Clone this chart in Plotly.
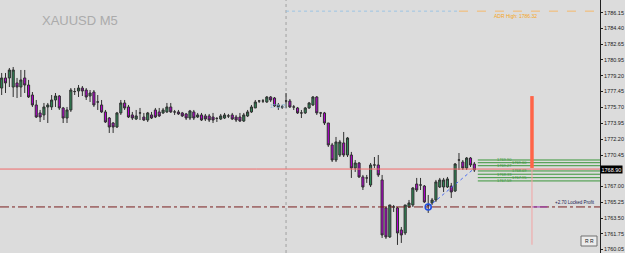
import plotly.graph_objects as go

opens = [1777.84,1778.95,1778.95,1777.95,1778.40,1777.95,1778.95,1778.17,1777.07,1775.97,
         1775.09,1774.87,1775.75,1775.75,1776.52,1776.96,1775.64,1774.53,1775.42,1777.45,
         1777.51,1777.84,1777.62,1776.96,1777.40,1776.30,1775.97,1775.20,1774.53,1773.98,
         1773.54,1775.09,1776.19,1775.75,1774.87,1774.42,1775.09,1774.64,1774.31,1774.87,
         1775.42,1775.20,1775.09,1775.20,1775.75,1775.20,1775.20,1775.09,1774.98,1774.53,
         1775.20,1774.64,1774.87,1774.76,1774.76,1774.64,1774.48,1774.42,1774.53,1774.76,
         1774.87,1774.64,1774.64,1774.20,1774.76,1775.20,1775.64,1776.41,1776.41,1776.30,
         1776.85,1776.74,1775.75,1775.75,1776.41,1776.41,1775.75,1775.64,1775.09,1775.09,
         1775.64,1775.97,1776.85,1775.09,1775.09,1773.98,1771.56,1769.90,1770.45,1771.78,
         1770.45,1770.45,1769.02,1769.57,1768.03,1767.92,1767.14,1769.35,1769.35,1767.70,
         1764.61,1761.41,1764.72,1764.61,1762.18,1761.85,1764.72,1764.94,1767.25,1767.14,
         1767.03,1764.94,1765.16,1765.49,1766.92,1766.92,1766.92,1767.03,1766.48,1769.90,
         1769.68,1769.02,1770.12,1769.46]
highs = [1779.50,1779.50,1780.05,1780.16,1778.95,1779.83,1779.83,1778.73,1777.40,1776.52,
         1775.42,1776.19,1776.19,1777.07,1777.29,1777.07,1775.75,1775.75,1777.84,1777.84,
         1778.17,1778.06,1777.84,1777.62,1777.62,1777.07,1776.52,1775.42,1774.64,1774.09,
         1775.20,1776.52,1776.52,1775.97,1775.20,1775.42,1775.64,1775.09,1775.20,1775.20,
         1775.64,1775.64,1775.64,1776.19,1776.19,1775.42,1775.42,1775.20,1775.09,1775.42,
         1775.42,1775.09,1775.09,1774.98,1774.98,1775.09,1774.64,1774.98,1775.09,1774.98,
         1775.09,1774.87,1775.09,1775.09,1775.42,1775.97,1776.52,1776.52,1776.63,1776.96,
         1776.96,1776.85,1776.19,1775.97,1777.29,1776.63,1775.97,1775.75,1775.42,1775.75,
         1776.30,1776.96,1776.96,1775.20,1775.20,1773.98,1771.78,1772.44,1772.11,1772.99,
         1772.44,1770.79,1769.90,1769.68,1768.25,1768.25,1769.57,1770.23,1770.45,1768.25,
         1764.72,1764.94,1764.94,1764.72,1762.51,1764.94,1765.49,1766.92,1767.92,1767.92,
         1767.14,1766.04,1765.71,1767.70,1767.92,1767.92,1768.03,1767.37,1769.57,1770.67,
         1769.90,1770.23,1770.23,1769.68]
lows = [1777.07,1777.29,1777.95,1776.85,1776.74,1776.85,1777.29,1776.74,1775.75,1774.53,
        1774.09,1774.31,1773.98,1775.42,1775.75,1775.42,1773.98,1773.98,1775.20,1777.07,
        1776.85,1776.96,1776.52,1776.30,1775.75,1775.42,1775.09,1773.98,1772.88,1772.88,
        1773.43,1774.87,1775.42,1774.53,1774.31,1774.31,1774.31,1774.20,1774.09,1774.42,
        1774.53,1774.64,1774.98,1775.09,1775.09,1774.87,1774.87,1774.64,1774.31,1774.31,
        1774.31,1774.53,1774.20,1774.20,1774.09,1773.98,1774.09,1774.31,1774.42,1774.53,
        1774.31,1774.09,1774.09,1774.09,1774.64,1775.09,1775.64,1776.19,1776.19,1776.19,
        1776.30,1775.75,1775.42,1775.53,1775.64,1775.64,1775.42,1774.98,1774.53,1774.98,
        1775.53,1775.86,1774.87,1774.64,1773.76,1771.34,1769.68,1769.68,1770.23,1770.23,
        1770.23,1767.92,1768.58,1767.92,1766.59,1767.37,1766.92,1769.02,1768.03,1761.30,
        1761.19,1761.30,1764.17,1760.53,1760.75,1761.63,1764.61,1764.72,1766.37,1766.59,
        1765.16,1764.06,1764.94,1765.27,1766.81,1766.37,1766.81,1765.71,1766.37,1768.80,
        1768.80,1768.80,1769.13,1768.58]
closes = [1778.95,1778.40,1779.83,1779.83,1777.95,1778.73,1778.17,1776.85,1775.97,1774.64,
          1774.64,1775.75,1775.97,1776.52,1776.96,1775.64,1774.53,1775.42,1777.62,1777.45,
          1777.84,1777.51,1776.85,1777.29,1775.97,1776.30,1775.20,1774.09,1773.54,1773.54,
          1775.09,1776.19,1775.64,1774.64,1774.53,1774.76,1775.09,1774.31,1775.09,1774.53,
          1774.64,1774.76,1775.42,1775.75,1775.20,1775.20,1774.98,1774.76,1774.53,1775.31,
          1774.53,1774.87,1774.31,1774.42,1774.31,1774.31,1774.48,1774.76,1774.87,1774.76,
          1774.42,1774.31,1774.20,1774.87,1775.20,1775.75,1776.30,1776.41,1776.41,1776.85,
          1776.52,1775.86,1775.97,1775.75,1776.41,1775.75,1775.75,1775.09,1775.09,1775.64,
          1776.19,1776.85,1775.09,1775.09,1773.98,1771.56,1769.90,1771.89,1771.89,1770.45,
          1772.33,1769.02,1769.57,1768.03,1766.92,1767.92,1769.35,1769.35,1768.25,1761.63,
          1761.41,1764.94,1764.72,1761.85,1761.63,1764.94,1765.16,1766.81,1766.59,1767.14,
          1765.27,1764.94,1765.49,1767.48,1767.70,1767.70,1767.81,1766.37,1769.46,1769.90,
          1769.02,1770.12,1769.35,1768.80]
bars = list(range(len(opens)))

tick_vals = [1786.15, 1784.40, 1782.65, 1780.95, 1779.20, 1777.45, 1775.70, 1773.95,
             1772.20, 1770.45, 1767.00, 1765.25, 1763.50, 1761.75, 1760.05]
tick_text = [f"{v:.2f}" for v in tick_vals]

current_price = 1768.90
locked_profit_price = 1764.72
adr_high = 1786.32
target_levels = [1769.90, 1769.60, 1769.27, 1768.69, 1768.33, 1767.95, 1767.59]
day_start_bar = 74
marker_bar = 111
trend_end_bar = 122.8
trend_end_price = 1768.90
range_bar = 138
range_top, range_mid, range_bottom = 1776.95, 1769.02, 1760.55
levels_start_bar = 123.9
x_range = [-0.4346, 155.7]
y_range = [1759.64, 1787.55]

BG = "#dcdcdc"
FONT = "Liberation Sans, Arial"
fig = go.Figure()
fig.add_trace(go.Candlestick(
    x=bars, open=opens, high=highs, low=lows, close=closes,
    increasing=dict(line=dict(color="#303030", width=1), fillcolor="#2e8b57"),
    decreasing=dict(line=dict(color="#303030", width=1), fillcolor="#b400d2"),
    showlegend=False, hoverinfo="skip"))

fig.add_trace(go.Scatter(x=[marker_bar, trend_end_bar], y=[locked_profit_price, trend_end_price],
                         mode="lines", line=dict(color="#4a6cf0", width=1, dash="dot"),
                         showlegend=False, hoverinfo="skip"))
fig.add_trace(go.Scatter(x=[marker_bar], y=[locked_profit_price], mode="markers",
                         marker=dict(symbol="circle-open", size=6, color="#2050e0",
                                     line=dict(width=1.6, color="#2050e0")),
                         showlegend=False, hoverinfo="skip"))

shapes = []
shapes.append(dict(type="line", xref="x", yref="paper", x0=day_start_bar, x1=day_start_bar,
                   y0=0, y1=1, line=dict(color="#a0a0a0", width=1, dash="dot"), layer="below"))
shapes.append(dict(type="line", xref="x", yref="y", x0=day_start_bar, x1=119,
                   y0=adr_high, y1=adr_high, line=dict(color="#9cc4e4", width=1, dash="dot")))
shapes.append(dict(type="line", xref="x", yref="y", x0=119, x1=x_range[1],
                   y0=adr_high, y1=adr_high, line=dict(color="#f5b86a", width=1, dash="dash")))
shapes.append(dict(type="line", xref="paper", yref="y", x0=0, x1=1,
                   y0=current_price, y1=current_price, line=dict(color="#f06a6a", width=1)))
shapes.append(dict(type="line", xref="paper", yref="y", x0=0, x1=1,
                   y0=locked_profit_price, y1=locked_profit_price,
                   line=dict(color="#7a1f1f", width=1, dash="dashdot")))
shapes.append(dict(type="line", xref="x", yref="y", x0=range_bar, x1=range_bar + 4,
                   y0=locked_profit_price, y1=locked_profit_price,
                   line=dict(color="#9a30b0", width=1)))
for lv in target_levels:
    shapes.append(dict(type="line", xref="x", yref="y", x0=levels_start_bar, x1=x_range[1],
                       y0=lv, y1=lv, line=dict(color="#3a963a", width=1)))
shapes.append(dict(type="line", xref="x", yref="y", x0=range_bar, x1=range_bar,
                   y0=range_bottom, y1=range_top, line=dict(color="#f4a4a4", width=1)))
shapes.append(dict(type="line", xref="x", yref="y", x0=range_bar, x1=range_bar,
                   y0=range_mid, y1=range_top, line=dict(color="#ff6448", width=3.5)))
shapes.append(dict(type="rect", xref="paper", yref="paper", x0=581/600, x1=597/600,
                   y0=7/253, y1=17/253, line=dict(color="#707070", width=1),
                   fillcolor="#ececec"))

annotations = [
    dict(text="XAUUSD M5", xref="paper", yref="paper", x=40/600, y=1-21/253,
         xanchor="left", yanchor="middle", showarrow=False,
         font=dict(family=FONT, size=13, color="#ababab")),
    dict(text="ADR High: 1786.32", xref="paper", yref="y", x=492/600, y=adr_high,
         xanchor="left", yanchor="top", showarrow=False,
         font=dict(family=FONT, size=5, color="#f5a623")),
    dict(text="+2.70 Locked Profit", xref="paper", yref="y", x=597/600, y=locked_profit_price,
         xanchor="right", yanchor="bottom", showarrow=False,
         font=dict(family=FONT, size=4.5, color="#1a1a50")),
    dict(text="R R", xref="paper", yref="paper", x=589/600, y=12/253,
         xanchor="center", yanchor="middle", showarrow=False,
         font=dict(family=FONT, size=5, color="#202020")),
    dict(text="1768.90", xref="paper", yref="y", x=1, y=current_price, xanchor="left",
         yanchor="middle", showarrow=False, bgcolor="#000000", borderpad=0.5,
         font=dict(family=FONT, size=5.5, color="#ffffff")),
    dict(text="1775.75", xref="x", yref="y", x=72, y=1775.75, xanchor="center",
         yanchor="middle", showarrow=False,
         font=dict(family=FONT, size=4.5, color="#86b4d4")),
]
for k, lv in enumerate(target_levels):
    annotations.append(dict(text=f"{lv:.2f}", xref="x", yref="y",
                            x=128.4 if k % 2 == 0 else 132.4, y=lv,
                            xanchor="left", yanchor="middle", showarrow=False,
                            font=dict(family=FONT, size=4, color="#3a963a")))

fig.update_layout(
    width=625, height=253, margin=dict(l=0, r=25, t=0, b=0),
    paper_bgcolor=BG, plot_bgcolor=BG, boxgap=0.22,
    shapes=shapes, annotations=annotations, showlegend=False,
    xaxis=dict(range=x_range, visible=False, rangeslider=dict(visible=False), fixedrange=True),
    yaxis=dict(range=y_range, side="right", showgrid=False, zeroline=False,
               showline=True, linecolor="#202020", linewidth=1,
               ticks="outside", ticklen=2, tickcolor="#202020",
               tickvals=tick_vals, ticktext=tick_text, automargin=False,
               tickfont=dict(family=FONT, size=5.5, color="#202020")),
)
fig.write_html("out.html")
